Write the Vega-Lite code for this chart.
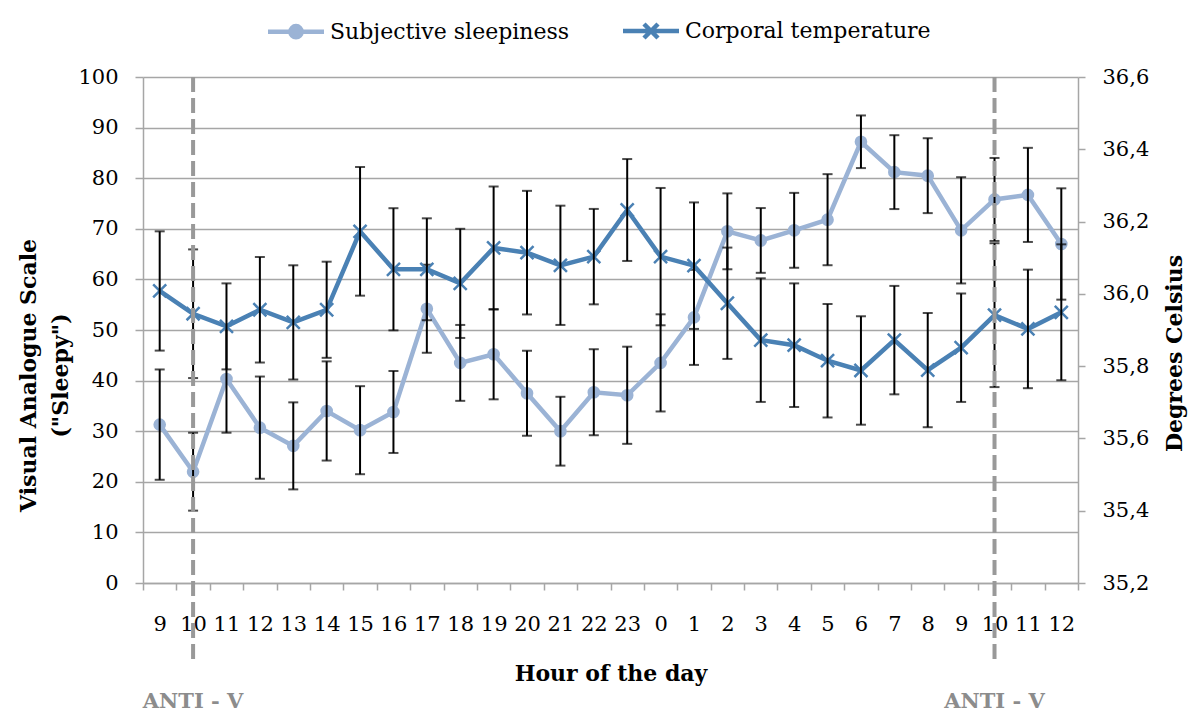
{
  "$schema": "https://vega.github.io/schema/vega-lite/v6.json",
  "width": 935,
  "height": 506,
  "autosize": {"type": "none"},
  "padding": {"left": 143, "top": 77, "right": 121, "bottom": 136},
  "background": "white",
  "config": {"view": {"stroke": null}, "font": "DejaVu Serif"},
  "data": {"values": [
    {"i":0,"h":9,"s":31.3,"se":10.9,"t":36.008,"te":0.165},
    {"i":1,"h":10,"s":22.0,"se":7.7,"t":35.945,"te":0.178},
    {"i":2,"h":11,"s":40.3,"se":10.6,"t":35.910,"te":0.119},
    {"i":3,"h":12,"s":30.7,"se":10.1,"t":35.956,"te":0.146},
    {"i":4,"h":13,"s":27.1,"se":8.6,"t":35.921,"te":0.158},
    {"i":5,"h":14,"s":34.0,"se":9.8,"t":35.956,"te":0.133},
    {"i":6,"h":15,"s":30.2,"se":8.7,"t":36.173,"te":0.178},
    {"i":7,"h":16,"s":33.8,"se":8.1,"t":36.068,"te":0.169},
    {"i":8,"h":17,"s":54.2,"se":8.7,"t":36.068,"te":0.141},
    {"i":9,"h":18,"s":43.5,"se":7.5,"t":36.029,"te":0.151},
    {"i":10,"h":19,"s":45.2,"se":8.9,"t":36.127,"te":0.170},
    {"i":11,"h":20,"s":37.5,"se":8.4,"t":36.114,"te":0.171},
    {"i":12,"h":21,"s":30.0,"se":6.8,"t":36.079,"te":0.165},
    {"i":13,"h":22,"s":37.7,"se":8.5,"t":36.103,"te":0.132},
    {"i":14,"h":23,"s":37.1,"se":9.6,"t":36.232,"te":0.141},
    {"i":15,"h":0,"s":43.5,"se":9.6,"t":36.103,"te":0.190},
    {"i":16,"h":1,"s":52.5,"se":9.4,"t":36.078,"te":0.175},
    {"i":17,"h":2,"s":69.5,"se":7.5,"t":35.974,"te":0.154},
    {"i":18,"h":3,"s":67.7,"se":6.4,"t":35.872,"te":0.171},
    {"i":19,"h":4,"s":69.7,"se":7.4,"t":35.858,"te":0.171},
    {"i":20,"h":5,"s":71.8,"se":9.0,"t":35.815,"te":0.157},
    {"i":21,"h":6,"s":87.2,"se":5.2,"t":35.788,"te":0.150},
    {"i":22,"h":7,"s":81.2,"se":7.3,"t":35.872,"te":0.150},
    {"i":23,"h":8,"s":80.5,"se":7.4,"t":35.789,"te":0.158},
    {"i":24,"h":9,"s":69.7,"se":10.5,"t":35.851,"te":0.150},
    {"i":25,"h":10,"s":75.8,"se":8.2,"t":35.941,"te":0.199},
    {"i":26,"h":11,"s":76.7,"se":9.3,"t":35.903,"te":0.164},
    {"i":27,"h":12,"s":67.0,"se":11.0,"t":35.949,"te":0.188}
  ]},
  "encoding": {
    "x": {
      "field": "i", "type": "ordinal",
      "scale": {"type": "band", "paddingInner": 0, "paddingOuter": 0},
      "axis": {
        "title": "Hour of the day",
        "titleFont": "DejaVu Serif", "titleFontSize": 22, "titleFontWeight": "bold", "titleColor": "black",
        "titlePadding": 29,
        "labelExpr": "isNumber(datum.value) ? (datum.value + 9) % 24 : ''",
        "labelAngle": 0, "labelFont": "DejaVu Serif", "labelFontSize": 21, "labelColor": "black",
        "labelPadding": 23,
        "tickBand": "extent", "tickSize": 7, "tickColor": "#A6A6A6", "tickWidth": 1.5,
        "domainColor": "#A6A6A6", "domainWidth": 1.5,
        "grid": false
      }
    }
  },
  "layer": [
    {
      "mark": {"type": "line", "strokeWidth": 4.5},
      "encoding": {
        "y": {
          "field": "s", "type": "quantitative",
          "scale": {"domain": [0, 100]},
          "axis": {
            "orient": "left",
            "values": [0,10,20,30,40,50,60,70,80,90,100],
            "title": ["Visual Analogue Scale", "(\"Sleepy\")"],
            "titleFont": "DejaVu Serif", "titleFontSize": 22, "titleFontWeight": "bold", "titleColor": "black",
            "titleX": -115, "titleY": 298, "titleAngle": 270, "titleAlign": "center", "titleBaseline": "middle", "titleLineHeight": 32,
            "labelFont": "DejaVu Serif", "labelFontSize": 21, "labelColor": "black", "labelPadding": 17,
            "tickSize": 8, "tickColor": "#A6A6A6", "tickWidth": 1.5,
            "domainColor": "#A6A6A6", "domainWidth": 1.5,
            "grid": true, "gridColor": "#A6A6A6", "gridWidth": 1.5
          }
        },
        "color": {
          "datum": "Subjective sleepiness",
          "scale": {"domain": ["Subjective sleepiness", "Corporal temperature"], "range": ["#9BB3D5", "#4A81B4"]},
          "legend": {
            "title": null,
            "orient": "none",
            "legendX": 142,
            "legendY": -57,
            "direction": "horizontal",
            "padding": 0,
            "labelFont": "DejaVu Serif", "labelFontSize": 22, "labelColor": "black",
            "labelLimit": 400,
            "labelOffset": 23,
            "columnPadding": 44,
            "symbolSize": 196,
            "symbolStrokeWidth": 4.5,
            "encode": {
              "symbols": {
                "update": {
                  "shape": {"signal": "datum.value === 'Subjective sleepiness' ? 'M-4,0L4,0M0.8,0A0.8,0.8 0 1,1 -0.8,0A0.8,0.8 0 1,1 0.8,0Z' : 'M-4,0L4,0M-1,-1L1,1M-1,1L1,-1'"},
                  "fill": {"signal": "datum.value === 'Subjective sleepiness' ? '#9BB3D5' : 'transparent'"},
                  "stroke": {"signal": "datum.value === 'Subjective sleepiness' ? '#9BB3D5' : '#4A81B4'"},
                  "strokeWidth": {"value": 4.5},
                  "opacity": {"value": 1}
                }
              }
            }
          }
        }
      }
    },
    {
      "mark": {"type": "point", "filled": true, "size": 160, "color": "#9BB3D5", "opacity": 1},
      "encoding": {
        "y": {"field": "s", "type": "quantitative", "scale": {"domain": [0, 100]}, "axis": null}
      }
    },
    {
      "mark": {"type": "errorbar", "color": "black", "ticks": {"size": 10, "thickness": 2}, "rule": {"strokeWidth": 2}},
      "encoding": {
        "y": {"field": "s", "type": "quantitative", "scale": {"domain": [0, 100]}, "axis": null},
        "yError": {"field": "se"}
      }
    },
    {
      "mark": {"type": "line", "strokeWidth": 4.5},
      "encoding": {
        "y": {
          "field": "t", "type": "quantitative",
          "scale": {"domain": [35.2, 36.6]},
          "axis": {
            "orient": "right",
            "values": [35.2, 35.4, 35.6, 35.8, 36.0, 36.2, 36.4, 36.6],
            "labelExpr": "replace(format(datum.value, '.1f'), '.', ',')",
            "title": "Degrees Celsius",
            "titleFont": "DejaVu Serif", "titleFontSize": 22, "titleFontWeight": "bold", "titleColor": "black",
            "titleX": 96, "titleY": 276, "titleAngle": 270, "titleAlign": "center", "titleBaseline": "middle",
            "labelFont": "DejaVu Serif", "labelFontSize": 21, "labelColor": "black", "labelPadding": 17,
            "tickSize": 7, "tickColor": "#A6A6A6", "tickWidth": 1.5,
            "domainColor": "#A6A6A6", "domainWidth": 1.5,
            "grid": false
          }
        },
        "color": {"datum": "Corporal temperature"}
      }
    },
    {
      "mark": {"type": "point", "filled": false, "shape": "M-1,-1L1,1M-1,1L1,-1", "size": 170, "strokeWidth": 2.5, "color": "#4A81B4", "opacity": 1},
      "encoding": {
        "y": {"field": "t", "type": "quantitative", "scale": {"domain": [35.2, 36.6]}, "axis": null}
      }
    },
    {
      "mark": {"type": "errorbar", "color": "black", "ticks": {"size": 10, "thickness": 2}, "rule": {"strokeWidth": 2}},
      "encoding": {
        "y": {"field": "t", "type": "quantitative", "scale": {"domain": [35.2, 36.6]}, "axis": null},
        "yError": {"field": "te"}
      }
    },
    {
      "data": {"values": [{"i": 1, "label": "ANTI - V"}, {"i": 25, "label": "ANTI - V"}]},
      "mark": {"type": "rule", "color": "#999999", "strokeWidth": 4, "strokeDash": [15, 6]},
      "encoding": {
        "y": {"datum": 100, "type": "quantitative", "scale": {"domain": [0, 100]}, "axis": null},
        "y2": {"datum": -15.7}
      }
    },
    {
      "data": {"values": [{"i": 1, "label": "ANTI - V"}, {"i": 25, "label": "ANTI - V"}]},
      "mark": {"type": "text", "color": "#8C8C8C", "font": "DejaVu Serif", "fontSize": 21, "fontWeight": "bold", "baseline": "middle", "align": "center"},
      "encoding": {
        "y": {"datum": -23.5, "type": "quantitative", "scale": {"domain": [0, 100]}, "axis": null},
        "text": {"field": "label"}
      }
    }
  ],
  "resolve": {"scale": {"y": "independent"}, "axis": {"y": "independent"}}
}
